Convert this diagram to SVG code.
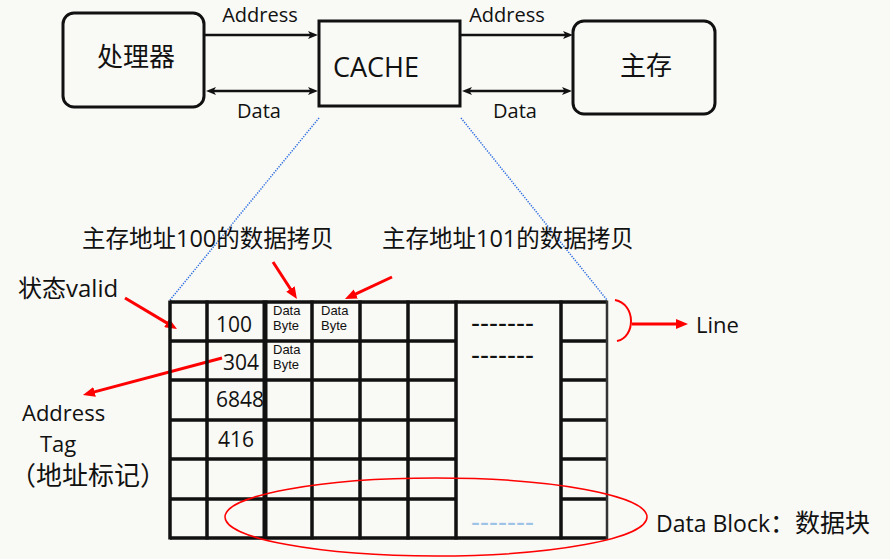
<svg xmlns="http://www.w3.org/2000/svg" width="890" height="559" viewBox="0 0 890 559">
<defs>
<marker id="bk" viewBox="0 0 10 8" refX="5" refY="4" markerWidth="11" markerHeight="8" markerUnits="userSpaceOnUse" orient="auto-start-reverse"><path d="M0,0 L10,4 L0,8 L2.5,4 z" fill="#111"/></marker>
<marker id="rd" viewBox="0 0 12 10" refX="4" refY="5" markerWidth="12" markerHeight="10" markerUnits="userSpaceOnUse" orient="auto"><path d="M0,0 L12,5 L0,10 z" fill="#ff0000"/></marker>
</defs>
<style>
.t{font-family:"Open Sans","Noto Sans CJK SC",sans-serif;fill:#111}
.box{fill:none;stroke:#111;stroke-width:3}
.conn{stroke:#111;stroke-width:2.5;fill:none}
.red{stroke:#ff0000;stroke-width:3;fill:none}
.dot{stroke:#2f6fe0;stroke-width:1.5;stroke-dasharray:1.3 1.3;fill:none}
.g{stroke:#111;stroke-width:3.5;fill:none}
.dash{font-family:"Liberation Sans",sans-serif;font-size:27px}
.db{font-family:"Liberation Sans",sans-serif;font-size:13px;fill:#111}
</style>
<rect width="890" height="559" fill="#f9f9f5"/>

<g id="processor">
<rect class="box" x="63" y="13" width="141" height="94" rx="11"/>
<text class="t" x="136" y="66" font-size="26" text-anchor="middle">处理器</text>
</g>
<g id="cache">
<rect class="box" x="319" y="21" width="141" height="85"/>
<text class="t" x="333" y="77" font-size="27">CACHE</text>
</g>
<g id="memory">
<rect class="box" x="573" y="21" width="142" height="93" rx="11"/>
<text class="t" x="646" y="75" font-size="26" text-anchor="middle">主存</text>
</g>

<g id="connectors">
<line class="conn" x1="204" y1="35" x2="313" y2="35" marker-end="url(#bk)"/>
<line class="conn" x1="211" y1="91" x2="313" y2="91" marker-start="url(#bk)" marker-end="url(#bk)"/>
<line class="conn" x1="460" y1="35" x2="568" y2="35" marker-end="url(#bk)"/>
<line class="conn" x1="467" y1="91" x2="567" y2="91" marker-start="url(#bk)" marker-end="url(#bk)"/>
<line class="dot" x1="319" y1="118" x2="170" y2="300"/>
<line class="dot" x1="461" y1="118" x2="607" y2="300"/>
<line class="red" x1="125" y1="298" x2="170.1" y2="324.9" marker-end="url(#rd)"/>
<line class="red" x1="273" y1="262" x2="292.6" y2="292.3" marker-end="url(#rd)"/>
<line class="red" x1="392" y1="277" x2="352.2" y2="295.6" marker-end="url(#rd)"/>
<line class="red" x1="222" y1="358" x2="90.7" y2="392.9" marker-end="url(#rd)"/>
<path d="M615,300 C636,304 636,337 617,341" stroke="#ff0000" stroke-width="2" fill="none"/>
<line class="red" x1="632" y1="324" x2="680" y2="324" marker-end="url(#rd)"/>
</g>

<g id="bus-labels">
<text class="t" x="260" y="22" font-size="20" text-anchor="middle">Address</text>
<text class="t" x="259" y="118" font-size="20" text-anchor="middle">Data</text>
<text class="t" x="507" y="22" font-size="20" text-anchor="middle">Address</text>
<text class="t" x="515" y="118" font-size="20" text-anchor="middle">Data</text>
</g>

<g id="cache-table">
<g class="g">
<path d="M170,302 H607 M170,538 H607"/>
<path d="M170,341 H456 M170,380 H456 M170,420 H456 M170,459 H456 M170,499 H456"/>
<path d="M561,341 H607 M561,380 H607 M561,420 H607 M561,459 H607 M561,499 H607"/>
<path d="M170,300.5 V539.5 M207,300.5 V539.5 M312,300.5 V539.5 M360,300.5 V539.5 M408,300.5 V539.5 M456,300.5 V539.5 M561,300.5 V539.5"/>
<path d="M265,300.5 V539.5" stroke-width="5"/>
<path d="M607,300.5 V539.5" stroke-width="2.5" stroke="#333"/>
</g>
<text class="t" x="216" y="332" font-size="21">100</text>
<text class="t" x="223" y="370" font-size="21">304</text>
<text class="t" x="216" y="407" font-size="21">6848</text>
<text class="t" x="218" y="447" font-size="21">416</text>
<text class="db" x="273" y="315">Data<tspan x="273" y="330">Byte</tspan></text>
<text class="db" x="321" y="315">Data<tspan x="321" y="330">Byte</tspan></text>
<text class="db" x="273" y="354">Data<tspan x="273" y="369">Byte</tspan></text>
<text class="dash" x="471" y="332" fill="#111">-------</text>
<text class="dash" x="471" y="364" fill="#111">-------</text>
<text class="dash" x="471" y="531" fill="#9dc3e6">-------</text>
</g>

<ellipse id="data-block-mark" cx="436" cy="517" rx="211" ry="39" fill="none" stroke="#ff0000" stroke-width="1.5"/>

<g id="annotations">
<text class="t" x="82" y="247" font-size="23.5">主存地址100的数据拷贝</text>
<text class="t" x="382" y="247" font-size="23.5">主存地址101的数据拷贝</text>
<text class="t" x="18" y="297" font-size="24">状态valid</text>
<text class="t" x="22" y="421" font-size="22">Address</text>
<text class="t" x="40" y="452" font-size="22">Tag</text>
<text class="t" x="10" y="485" font-size="26">（地址标记）</text>
<text class="t" x="696" y="333" font-size="22">Line</text>
<text class="t" x="656" y="532" font-size="23">Data Block<tspan font-size="25">：数据块</tspan></text>
</g>
</svg>
